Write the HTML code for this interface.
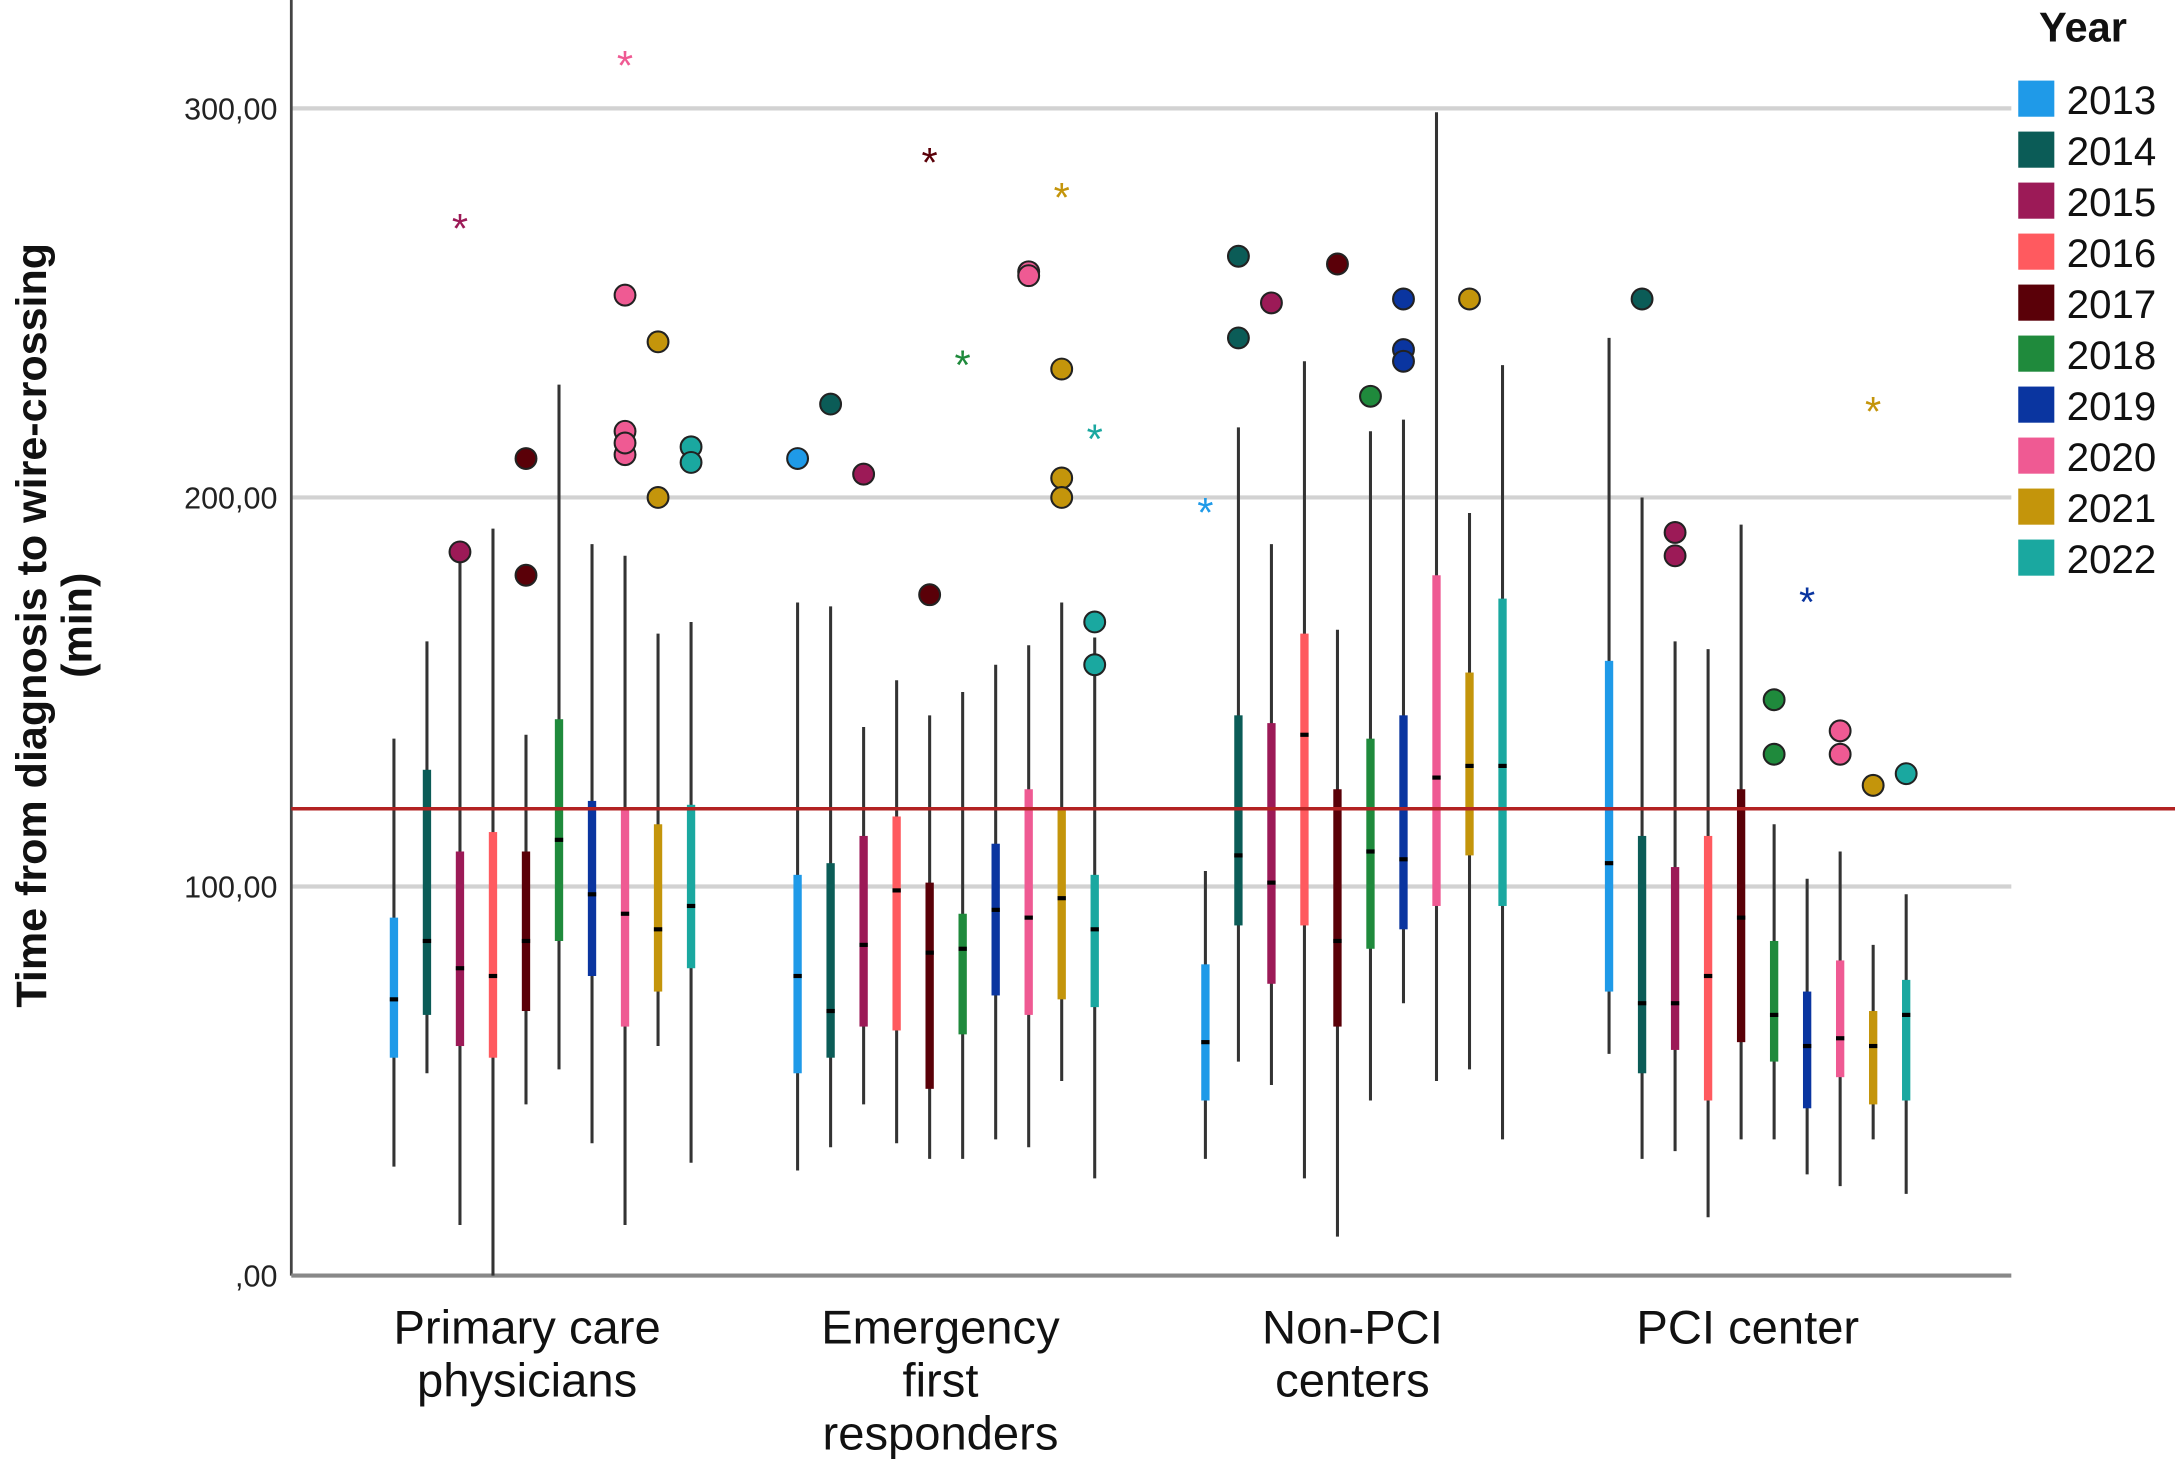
<!DOCTYPE html>
<html><head><meta charset="utf-8"><style>
html,body{margin:0;padding:0;background:#fff}
svg{display:block}
text{font-family:"Liberation Sans",Arial,sans-serif}
</style></head><body>
<svg id="chart" width="2175" height="1459" viewBox="0 0 1568 1050" preserveAspectRatio="none" xmlns="http://www.w3.org/2000/svg">
<g id="grid"></g>
<g id="axes"></g>
<g id="marks"></g>
<g id="legend"></g>
<text transform="translate(33,450) rotate(-90)" text-anchor="middle" font-size="31" font-weight="bold" fill="#111">Time from diagnosis to wire-crossing</text>
<text transform="translate(66,450) rotate(-90)" text-anchor="middle" font-size="31" font-weight="bold" fill="#111">(min)</text>
</svg>
<script>
const categories=[["Primary care","physicians"],["Emergency","first","responders"],["Non-PCI","centers"],["PCI center"]];
const years=["2013","2014","2015","2016","2017","2018","2019","2020","2021","2022"];
const colors=["#1f9ae8","#0b5c57","#9c1a57","#ff5a5f","#5a0008","#1f8a3c","#0a35a0","#ef5a93","#c4950b","#1aa8a0"];
const yTicks=[0,100,200,300];
const yTickLabels=[",00","100,00","200,00","300,00"];
const refLine=120;
const boxStats=[
[[28,56,71,92,138],[52,67,86,130,163],[13,59,79,109,184],[0,56,77,114,192],[44,68,86,109,139],[53,86,112,143,229],[34,77,98,122,188],[13,64,93,120,185],[59,73,89,116,165],[29,79,95,121,168]],
[[27,52,77,103,173],[33,56,68,106,172],[44,64,85,113,141],[34,63,99,118,153],[30,48,83,101,144],[30,62,84,93,150],[35,72,94,111,157],[33,67,92,125,162],[50,71,97,120,173],[25,69,89,103,164]],
[[30,45,60,80,104],[55,90,108,144,218],[49,75,101,142,188],[25,90,139,165,235],[10,64,86,125,166],[45,84,109,138,217],[70,89,107,144,220],[50,95,128,180,299],[53,108,131,155,196],[35,95,131,174,234]],
[[57,73,106,158,241],[30,52,70,113,200],[32,58,70,105,163],[15,45,77,113,161],[35,60,92,125,193],[35,55,67,86,116],[26,43,59,73,102],[23,51,61,81,109],[35,44,59,68,85],[21,45,67,76,98]]
];
const outliers=[
[[],[],[186],[],[210,180],[],[],[252,217,211,214],[240,200],[213,209]],
[[210],[224],[206],[],[175],[],[],[258,257],[233,205,200],[168,157]],
[[],[262,241],[250],[],[260],[226],[251,238,235],[],[251],[]],
[[],[251],[191,185],[],[],[148,134],[],[140,134],[126],[129]]
];
const extremes=[
[[],[],[270],[],[],[],[],[312],[],[]],
[[],[],[],[],[287],[235],[],[],[278],[216]],
[[197],[],[],[],[],[],[],[],[],[]],
[[],[],[],[],[],[],[174],[],[223],[]]
];
const NS="http://www.w3.org/2000/svg";
const x0=210,x1=1450,yBase=918,pxPerUnit=2.8;
const groupStart=[284,575,869,1160],step=23.8;
const labelCenters=[380,678,975,1260];
function y(v){return yBase-v*pxPerUnit;}
function x(g,i){return groupStart[g]+i*step;}
function mk(parent,tag,attrs){const e=document.createElementNS(NS,tag);for(const k in attrs)e.setAttribute(k,attrs[k]);parent.appendChild(e);return e;}
const grid=document.getElementById('grid'),axes=document.getElementById('axes'),marks=document.getElementById('marks'),legend=document.getElementById('legend');
yTicks.forEach((t,i)=>{
 if(t>0){const l=mk(grid,'line',{x1:x0,x2:x1,y1:y(t),y2:y(t),stroke:'#d2d2d2','stroke-width':3});
 
 }
 const tx=mk(axes,'text',{x:200,y:y(t)+8,'text-anchor':'end','font-size':22,fill:'#222'});tx.textContent=yTickLabels[i];
 
 
});
let a=mk(axes,'line',{x1:x0,x2:x0,y1:0,y2:yBase,stroke:'#444','stroke-width':2});


a=mk(axes,'line',{x1:x0,x2:x1,y1:yBase,y2:yBase,stroke:'#888','stroke-width':3});


categories.forEach((c,g)=>{
 const cx=labelCenters[g];
 c.forEach((ln,k)=>{const t=mk(axes,'text',{x:cx,y:967+k*38,'text-anchor':'middle','font-size':34,fill:'#111'});t.textContent=ln;
 
 });
});
boxStats.forEach((grp,g)=>grp.forEach((s,i)=>{
 const cx=x(g,i),col=colors[i];
 const w=mk(marks,'line',{x1:cx,x2:cx,y1:y(s[0]),y2:y(s[4]),stroke:'#333','stroke-width':2.2});
 
 
 const b=mk(marks,'rect',{x:cx-3,y:y(s[3]),width:6,height:y(s[1])-y(s[3]),fill:col});
 
 
 const m=mk(marks,'line',{x1:cx-3,x2:cx+3,y1:y(s[2]),y2:y(s[2]),stroke:'#000','stroke-width':3});
 
 
 outliers[g][i].forEach(v=>{const c=mk(marks,'circle',{cx:cx,cy:y(v),r:7.5,fill:col,stroke:'#222','stroke-width':1.5});
 
 });
 extremes[g][i].forEach(v=>{const t=mk(marks,'text',{x:cx,y:y(v)+13,'text-anchor':'middle','font-size':30,fill:col});t.textContent='*';
 
 });
}));
const rl=mk(marks,'line',{x1:x0,x2:x1+118,y1:y(refLine),y2:y(refLine),stroke:'#b22222','stroke-width':2.5});


const lt=mk(legend,'text',{x:1470,y:30,'font-size':30,'font-weight':'bold',fill:'#111'});lt.textContent='Year';


years.forEach((yr,i)=>{
 const yy=71+i*36.7;
 const r=mk(legend,'rect',{x:1455,y:yy-13,width:26,height:26,fill:colors[i]});
 
 
 const t=mk(legend,'text',{x:1490,y:yy+11,'font-size':29,fill:'#111'});t.textContent=yr;
 
 
});
</script>
</body></html>
